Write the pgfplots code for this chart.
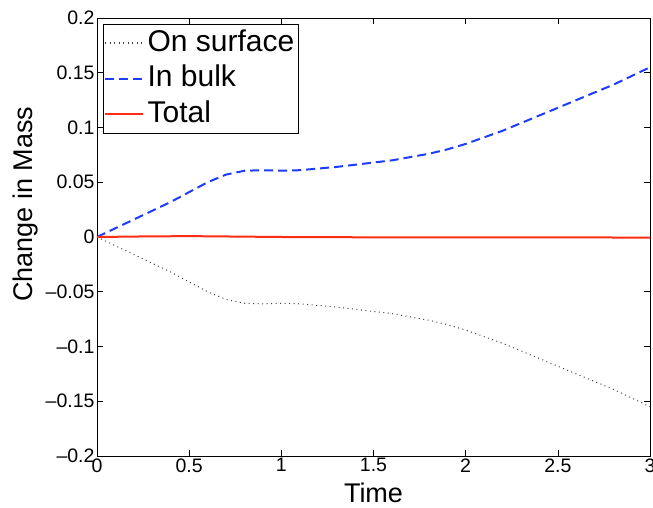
\documentclass[border=0pt]{standalone}
\usepackage{pgfplots}
\pgfplotsset{compat=1.18}
\usepackage{fontspec}
\setmainfont{Liberation Sans}
\begin{document}
\begin{tikzpicture}
\begin{axis}[
  name=ax,
  scale only axis,
  width=553pt, height=438pt,
  xmin=0, xmax=3, ymin=-0.2, ymax=0.2,
  xtick={0,0.5,...,3},
  ytick={-0.2,-0.15,-0.1,-0.05,0,0.05,0.1,0.15,0.2},
  yticklabels={--0.2,--0.15,--0.1,--0.05,0,0.05,0.1,0.15,0.2},
  tick align=inside, tick pos=both,
  major tick length=6pt,
  axis line style={line width=0.9pt},
  every tick/.style={black, line width=0.6pt},
  /pgf/number format/assume math mode=true,
  ticklabel style={font=\fontsize{19.5}{20}\selectfont},
  xticklabel style={yshift=1pt},
  yticklabel style={xshift=1pt},
  xlabel={Time}, ylabel={Change in Mass},
  label style={font=\fontsize{27}{27}\selectfont},
  xlabel style={at={(axis description cs:0.5,0)}, anchor=base, yshift=-47pt},
  ylabel style={at={(ticklabel cs:0.575)}, yshift=1pt},
  legend style={at={(0.011,0.986)}, anchor=north west,
    font=\fontsize{30}{30}\selectfont,
    draw=black, line width=0.8pt, inner sep=1pt, row sep=0pt,
    nodes={text height=22.5pt, text depth=7pt, inner ysep=3pt, inner xsep=3.5pt},
    cells={anchor=west}},
  legend image code/.code={\draw[#1, line width=1.6pt] (2pt,0pt) -- (40pt,0pt);},
]
\addplot[black!75, dash pattern=on 1pt off 3.5pt, line width=1pt] coordinates {
(0,0) (0.1,-0.008) (0.2,-0.016) (0.3,-0.024) (0.4,-0.032) (0.5,-0.041) (0.6,-0.05) (0.7,-0.057) (0.8,-0.0605) (0.9,-0.061) (1.0,-0.0605) (1.1,-0.061) (1.2,-0.0625) (1.3,-0.064) (1.4,-0.066) (1.5,-0.068) (1.6,-0.070) (1.7,-0.073) (1.8,-0.076) (1.9,-0.080) (2.0,-0.085) (2.1,-0.091) (2.2,-0.097) (2.3,-0.104) (2.4,-0.111) (2.5,-0.118) (2.6,-0.125) (2.7,-0.132) (2.8,-0.139) (2.9,-0.147) (3.0,-0.155)};
\addlegendentry{On surface}
\addplot[color={rgb,255:red,30;green,60;blue,255}, dash pattern=on 9pt off 5pt, line width=2pt] coordinates {
(0,0) (0.1,0.008) (0.2,0.016) (0.3,0.024) (0.4,0.032) (0.5,0.041) (0.6,0.05) (0.7,0.057) (0.8,0.0605) (0.9,0.061) (1.0,0.0605) (1.1,0.061) (1.2,0.0625) (1.3,0.064) (1.4,0.066) (1.5,0.068) (1.6,0.070) (1.7,0.073) (1.8,0.076) (1.9,0.080) (2.0,0.085) (2.1,0.091) (2.2,0.097) (2.3,0.104) (2.4,0.111) (2.5,0.118) (2.6,0.125) (2.7,0.132) (2.8,0.139) (2.9,0.147) (3.0,0.155)};
\addlegendentry{In bulk}
\addplot[color={rgb,255:red,255;green,45;blue,20}, line width=2pt] coordinates {
(0,0) (0.25,0.0005) (0.5,0.0008) (0.75,0.0004) (1.0,0) (1.5,-0.0003) (2.0,-0.0004) (2.5,-0.0004) (3.0,-0.0005)};
\addlegendentry{Total}
\end{axis}
\pgfresetboundingbox
\path (ax.south west) ++(-97pt,-52pt) coordinate (bl);
\path (ax.north east) ++(3pt,18pt) coordinate (tr);
\path (bl) rectangle (tr);
\end{tikzpicture}
\end{document}
